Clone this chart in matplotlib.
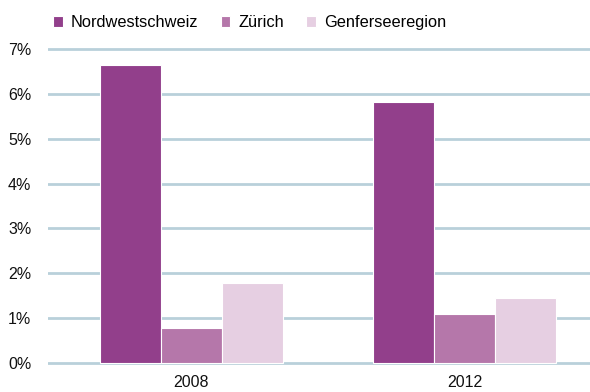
import numpy as np
import matplotlib.pyplot as plt

plt.rcParams['font.family'] = ['Liberation Sans', 'DejaVu Sans']

years = ['2008', '2012']
regions = ['Nordwestschweiz', 'Zürich', 'Genferseeregion']
values = {
    'Nordwestschweiz': [6.64, 5.82],
    'Zürich': [0.79, 1.09],
    'Genferseeregion': [1.79, 1.46],
}
colors = ['#923f8b', '#b577aa', '#e6cfe2']

W, H = 590, 392
fig = plt.figure(figsize=(W / 100, H / 100), dpi=100)
ax = fig.add_axes([48 / W, 1 - 365 / H, 1 - 48 / W, (365 - 47) / H])

x = np.arange(len(years))
width = 0.224
for i, (name, col) in enumerate(zip(regions, colors)):
    ax.bar(x + (i - 1) * width, values[name], width, color=col, label=name,
           edgecolor='white', linewidth=0.8, zorder=3)

ax.set_xlim(-0.5256, 1.46)
ax.set_ylim(-2 / 44.86, 7 + 2 / 44.86)
ax.set_yticks(range(8))
ax.set_yticklabels([f'{v}%' for v in range(8)])
ax.set_xticks(x)
ax.set_xticklabels(years)
ax.tick_params(length=0, labelsize=11.5, colors='#111111')
ax.tick_params(axis='y', pad=12)
ax.tick_params(axis='x', pad=7)
ax.grid(axis='y', color='#b9d0da', linewidth=2, zorder=0)
for s in ax.spines.values():
    s.set_visible(False)

fig.legend(loc='upper left', bbox_to_anchor=(0.07, 0.99), ncol=3, frameon=False,
           fontsize=11.8, handlelength=0.6, handleheight=0.6, handletextpad=0.5,
           columnspacing=1.35, borderaxespad=0.3)

plt.savefig('out.png', dpi=100)
